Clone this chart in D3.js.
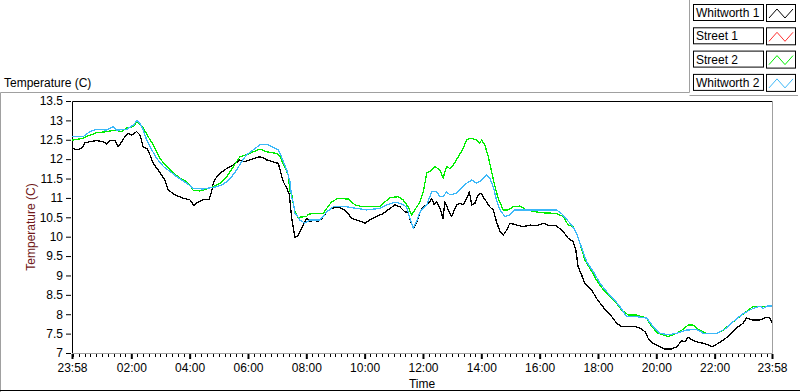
<!DOCTYPE html>
<meta charset="utf-8">
<head>
<style>
  body { margin: 0; background: #fff; }
  svg { display: block; font-family: "Liberation Sans", Arial, sans-serif; font-size: 12px; }
  .trace { fill: none; stroke-width: 1.3px; stroke-linejoin: round; shape-rendering: crispEdges; }
  .frame { stroke: #a0a0a0; stroke-width: 1px; fill: none; }
</style>
</head>
<body>
<div id="content"></div>
<script src="https://d3js.org/d3.v7.min.js"></script>
<script type="text/javascript">

// series names, colours (legend order)
var seriesNames = ["Whitworth 1", "Street 1", "Street 2", "Whitworth 2"];
var seriesColors = ["#000000", "#ff3030", "#00ee00", "#3cb8f8"];

// y axis ticks
var yTicks = [7, 7.5, 8, 8.5, 9, 9.5, 10, 10.5, 11, 11.5, 12, 12.5, 13, 13.5];
// x axis major ticks in hours after midnight (start/end are 23:58)
var xMajorHours = [-2/60, 2, 4, 6, 8, 10, 12, 14, 16, 18, 20, 22, 23 + 58/60];

// [hour, temperature]
var whitworth1 = [[-0.03,12.28],[0.13,12.24],[0.30,12.28],[0.41,12.42],[0.58,12.45],[0.81,12.48],[1.04,12.45],[1.16,12.39],[1.27,12.48],[1.44,12.48],[1.55,12.32],[1.67,12.45],[1.78,12.58],[1.90,12.67],[2.01,12.62],[2.18,12.71],[2.30,12.62],[2.41,12.31],[2.53,12.28],[2.64,12.11],[2.75,11.89],[2.92,11.72],[3.04,11.59],[3.15,11.46],[3.27,11.20],[3.50,11.08],[3.78,10.99],[4.01,10.95],[4.15,10.80],[4.28,10.89],[4.47,10.95],[4.67,10.97],[4.75,11.16],[4.81,11.38],[4.93,11.55],[5.04,11.64],[5.15,11.69],[5.27,11.76],[5.50,11.85],[5.72,11.98],[5.84,11.93],[6.07,11.98],[6.30,12.04],[6.41,12.06],[6.52,12.04],[6.64,11.98],[6.87,11.93],[7.04,11.89],[7.10,11.72],[7.21,11.42],[7.33,11.25],[7.42,11.08],[7.50,10.47],[7.61,9.97],[7.72,10.04],[7.84,10.22],[8.01,10.47],[8.12,10.39],[8.24,10.43],[8.41,10.39],[8.53,10.47],[8.70,10.64],[8.87,10.73],[9.09,10.77],[9.32,10.69],[9.44,10.60],[9.55,10.47],[9.73,10.43],[9.90,10.39],[10.01,10.35],[10.18,10.43],[10.41,10.52],[10.64,10.60],[10.87,10.73],[11.04,10.82],[11.21,10.77],[11.38,10.64],[11.49,10.64],[11.58,10.39],[11.67,10.22],[11.78,10.35],[11.90,10.64],[12.01,10.77],[12.13,10.82],[12.24,10.90],[12.30,10.99],[12.38,10.82],[12.47,10.90],[12.58,10.73],[12.69,10.47],[12.75,10.90],[12.87,10.69],[12.98,10.52],[13.15,10.82],[13.27,10.86],[13.38,10.82],[13.50,10.99],[13.59,11.16],[13.67,10.82],[13.78,10.86],[13.89,11.08],[14.01,11.12],[14.09,10.99],[14.18,10.90],[14.29,10.77],[14.41,10.69],[14.52,10.39],[14.64,10.13],[14.75,10.04],[14.87,10.17],[14.98,10.35],[15.21,10.30],[15.44,10.26],[15.67,10.30],[15.90,10.28],[16.12,10.35],[16.35,10.28],[16.58,10.28],[16.81,10.13],[16.98,9.96],[17.15,9.87],[17.24,9.66],[17.32,9.23],[17.44,9.01],[17.55,8.80],[17.78,8.63],[17.95,8.41],[18.12,8.24],[18.30,8.07],[18.47,7.94],[18.64,7.77],[18.81,7.68],[19.04,7.68],[19.27,7.68],[19.44,7.64],[19.61,7.55],[19.72,7.38],[19.89,7.25],[20.12,7.16],[20.29,7.10],[20.52,7.10],[20.70,7.16],[20.87,7.32],[20.98,7.29],[21.09,7.41],[21.21,7.34],[21.38,7.29],[21.61,7.25],[21.78,7.21],[21.93,7.16],[22.12,7.25],[22.35,7.36],[22.58,7.51],[22.81,7.68],[22.98,7.77],[23.09,7.90],[23.32,7.85],[23.55,7.85],[23.78,7.92],[23.89,7.90],[23.97,7.77]];

// Street 1 is not visible on the chart
var street1 = [];

var street2 = [[-0.03,12.49],[0.35,12.54],[0.58,12.62],[0.81,12.68],[1.16,12.71],[1.44,12.75],[1.67,12.71],[1.84,12.80],[2.07,12.84],[2.20,12.97],[2.30,12.88],[2.41,12.80],[2.58,12.58],[2.75,12.37],[2.98,12.02],[3.21,11.81],[3.44,11.64],[3.67,11.51],[3.90,11.42],[4.01,11.33],[4.12,11.20],[4.35,11.18],[4.58,11.23],[4.81,11.29],[5.04,11.38],[5.27,11.55],[5.50,11.81],[5.72,12.06],[5.95,12.11],[6.18,12.19],[6.41,12.26],[6.64,12.19],[6.98,12.15],[7.10,12.06],[7.27,11.78],[7.38,11.59],[7.44,11.16],[7.50,11.08],[7.61,10.64],[7.72,10.50],[8.01,10.52],[8.07,10.58],[8.24,10.60],[8.58,10.60],[8.70,10.73],[8.87,10.90],[9.09,10.99],[9.44,10.97],[9.67,10.82],[9.95,10.77],[10.52,10.77],[10.70,10.90],[10.87,11.01],[11.15,11.03],[11.32,10.95],[11.49,10.77],[11.61,10.56],[11.72,10.69],[11.90,10.90],[12.01,11.16],[12.13,11.64],[12.30,11.72],[12.41,11.81],[12.58,11.72],[12.69,11.51],[12.81,11.81],[12.92,11.76],[13.04,11.85],[13.21,12.06],[13.38,12.28],[13.50,12.51],[13.67,12.54],[13.84,12.49],[13.93,12.41],[14.01,12.49],[14.12,12.37],[14.24,12.06],[14.35,11.68],[14.47,11.29],[14.58,10.99],[14.75,10.69],[14.92,10.69],[15.09,10.77],[15.32,10.79],[15.55,10.69],[16.01,10.62],[16.58,10.60],[16.81,10.52],[16.98,10.30],[17.15,10.26],[17.27,10.09],[17.38,9.83],[17.55,9.40],[17.72,9.19],[17.95,8.88],[18.18,8.63],[18.41,8.45],[18.64,8.28],[18.81,8.11],[19.04,7.98],[19.32,7.98],[19.67,7.90],[19.84,7.68],[20.06,7.51],[20.41,7.42],[20.70,7.51],[20.92,7.61],[21.09,7.72],[21.26,7.72],[21.44,7.61],[21.72,7.51],[22.07,7.51],[22.29,7.59],[22.58,7.77],[22.86,7.94],[23.09,8.07],[23.32,8.20],[23.55,8.20],[23.97,8.21]];

var whitworth2 = [[-0.03,12.58],[0.35,12.58],[0.58,12.71],[0.81,12.77],[1.16,12.75],[1.38,12.84],[1.50,12.75],[1.84,12.77],[2.07,12.88],[2.20,13.00],[2.30,12.92],[2.41,12.75],[2.53,12.49],[2.70,12.24],[2.87,12.02],[3.10,11.81],[3.33,11.68],[3.55,11.55],[3.90,11.38],[4.12,11.25],[4.47,11.23],[4.93,11.29],[5.10,11.33],[5.27,11.42],[5.44,11.55],[5.61,11.72],[5.78,11.93],[5.95,12.11],[6.18,12.24],[6.41,12.37],[6.70,12.37],[6.87,12.30],[7.04,12.24],[7.15,12.06],[7.33,11.72],[7.44,11.42],[7.50,10.99],[7.55,10.90],[7.61,10.60],[7.67,10.56],[7.78,10.43],[7.95,10.35],[8.12,10.43],[8.47,10.43],[8.70,10.64],[8.92,10.77],[9.38,10.77],[9.73,10.73],[10.07,10.69],[10.52,10.73],[10.75,10.82],[11.04,10.89],[11.21,10.86],[11.44,10.77],[11.55,10.47],[11.67,10.22],[11.78,10.39],[11.90,10.64],[12.13,10.82],[12.30,11.16],[12.47,11.16],[12.58,11.03],[12.69,11.03],[12.81,11.16],[12.92,11.08],[13.15,11.12],[13.32,11.25],[13.50,11.38],[13.67,11.46],[13.84,11.38],[14.01,11.46],[14.18,11.59],[14.29,11.51],[14.41,11.29],[14.52,10.95],[14.64,10.69],[14.81,10.52],[14.98,10.56],[15.15,10.69],[15.44,10.69],[16.12,10.69],[16.58,10.69],[16.75,10.60],[16.92,10.45],[17.10,10.30],[17.27,10.09],[17.44,9.71],[17.61,9.36],[17.84,9.10],[18.07,8.80],[18.30,8.58],[18.52,8.41],[18.75,8.20],[18.98,7.94],[19.32,7.94],[19.67,7.90],[19.89,7.68],[20.12,7.51],[20.41,7.47],[20.70,7.51],[21.04,7.59],[21.38,7.61],[21.61,7.51],[22.07,7.51],[22.41,7.64],[22.64,7.81],[22.98,8.02],[23.32,8.15],[23.55,8.21],[23.67,8.15],[23.79,8.21],[23.97,8.21]];

var allSeries = [whitworth1, street1, street2, whitworth2];

var W = 800, H = 392;
var margin = {top: 101, right: 28, bottom: 39, left: 72};
var width = W - margin.left - margin.right,
    height = H - margin.top - margin.bottom;

var base = new Date(2000, 0, 1).getTime();
function toDate(h) { return new Date(base + h * 3600000); }

var svg = d3.select("#content").append("svg")
    .attr("width", W)
    .attr("height", H);

// panel frame lines
svg.append("path").attr("class", "frame")
    .attr("d", "M0.5,392 L0.5,92.5 L689.5,92.5 L689.5,0 M689.5,95.5 L798,95.5");
svg.append("line").attr("x1", 0).attr("x2", W).attr("y1", 390.5).attr("y2", 390.5)
    .attr("stroke", "#000");

svg.append("text").attr("x", 4).attr("y", 87).text("Temperature (C)");

var x = d3.scaleTime()
    .domain([toDate(xMajorHours[0]), toDate(xMajorHours[xMajorHours.length - 1])])
    .range([0, width]);
var y = d3.scaleLinear().domain([7, 13.5]).range([height, 0]);

var g = svg.append("g").attr("transform", "translate(" + margin.left + "," + margin.top + ")");

// plot area borders: dark top/left, grey bottom/right
g.append("path").attr("fill", "none").attr("stroke", "#a0a0a0")
    .attr("d", "M0," + (height + 0.5) + "H" + (width + 0.5) + "V0");
g.append("path").attr("fill", "none").attr("stroke", "#000")
    .attr("d", "M0.5," + height + "V0.5H" + width);

// y axis
var yAxis = g.append("g")
    .attr("transform", "translate(-1,0)")
    .call(d3.axisLeft(y).tickValues(yTicks).tickSize(5).tickPadding(3)
        .tickFormat(function(d) { return d % 1 ? d.toFixed(1) : d; }));
yAxis.select(".domain").remove();
yAxis.selectAll("text").attr("font-family", "Liberation Sans, Arial, sans-serif").attr("font-size", 12).attr("fill", "#000");

// x axis minor ticks every 12 minutes
var minorTicks = d3.timeMinute.every(12).range(x.domain()[0], x.domain()[1]);
var xMinor = g.append("g")
    .attr("transform", "translate(0," + (height + 1) + ")")
    .call(d3.axisBottom(x).tickValues(minorTicks).tickSize(3).tickFormat(""));
xMinor.select(".domain").remove();
xMinor.selectAll("line").attr("shape-rendering", "crispEdges");

var xMajor = g.append("g")
    .attr("transform", "translate(0," + (height + 1) + ")")
    .call(d3.axisBottom(x).tickValues(xMajorHours.map(toDate)).tickSize(5).tickPadding(4)
        .tickFormat(d3.timeFormat("%H:%M")));
xMajor.select(".domain").remove();
xMajor.selectAll("line").attr("stroke-width", 2);
xMajor.selectAll("text").attr("font-family", "Liberation Sans, Arial, sans-serif").attr("font-size", 12).attr("fill", "#000");

// axis titles
g.append("text")
    .attr("x", width / 2).attr("y", height + 35)
    .attr("text-anchor", "middle").text("Time");
g.append("text")
    .attr("transform", "translate(-37," + (height / 2) + ") rotate(-90)")
    .attr("text-anchor", "middle").attr("fill", "#701818")
    .text("Temperature (C)");

// traces
var line = d3.line()
    .x(function(d) { return x(toDate(d[0])); })
    .y(function(d) { return y(d[1]); });

g.append("g").selectAll("path")
  .data(allSeries)
  .enter()
  .append("path")
    .attr("class", "trace")
    .attr("stroke", function(d, i) { return seriesColors[i]; })
    .attr("d", function(d) { return d.length ? line(d) : null; });

// legend
var legend = svg.append("g").selectAll("g")
  .data(seriesNames)
  .enter()
  .append("g")
    .attr("transform", function(d, i) { return "translate(693," + (4 + i * 23.3) + ")"; });

legend.append("rect")
    .attr("x", 0.5).attr("y", 0.5).attr("width", 70).attr("height", 16)
    .attr("fill", "#fff").attr("stroke", "#000");
legend.append("text")
    .attr("x", 3).attr("y", 13).text(function(d) { return d; });
legend.append("rect")
    .attr("x", 73.5).attr("y", 0.5).attr("width", 29).attr("height", 17)
    .attr("fill", "#fff").attr("stroke", "#000");
legend.append("path")
    .attr("fill", "none")
    .attr("stroke", function(d, i) { return seriesColors[i]; })
    .attr("d", "M76,14 L84,5 L92,14 L100,5");

</script>
</body>
</html>
